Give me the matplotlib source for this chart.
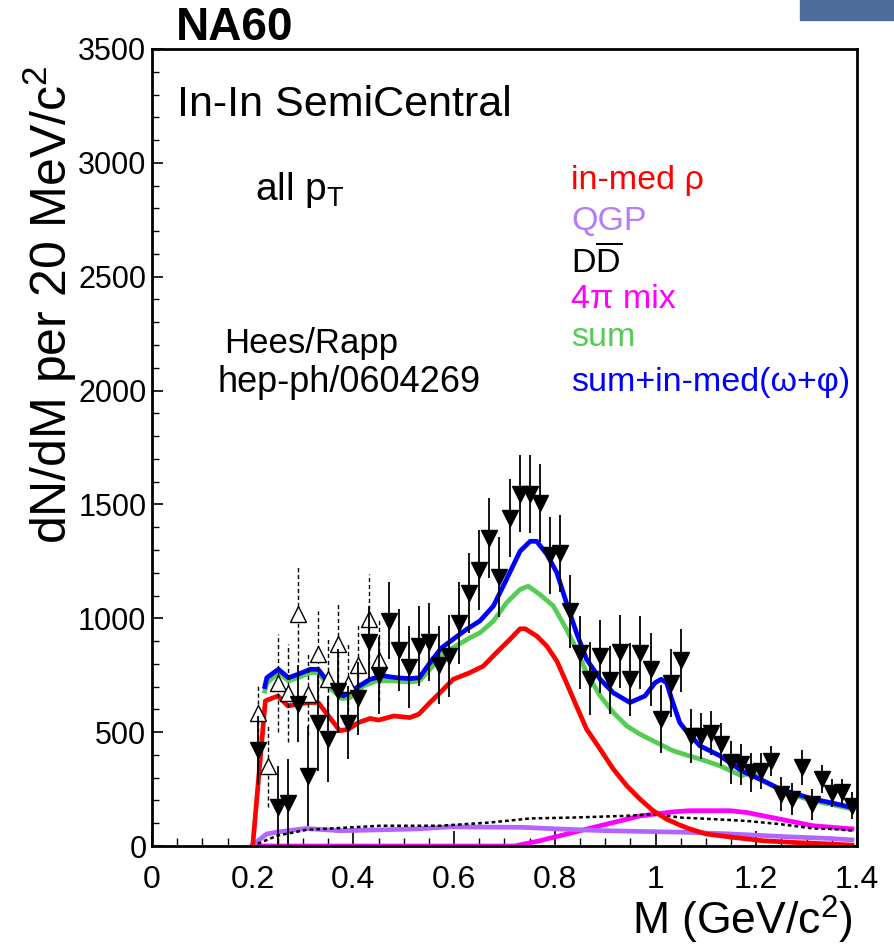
import matplotlib
matplotlib.use('Agg')
import matplotlib.pyplot as plt
from matplotlib.ticker import MultipleLocator
from matplotlib.patches import Rectangle

plt.rcParams['font.family'] = ['Liberation Sans', 'DejaVu Sans']
plt.rcParams['mathtext.fontset'] = 'custom'
plt.rcParams['mathtext.rm'] = 'Liberation Sans'
plt.rcParams['mathtext.it'] = 'Liberation Sans'

# NA60 data, filled triangles (all pT)
m_data = [0.21, 0.25, 0.27, 0.29, 0.31, 0.33, 0.35, 0.37, 0.39, 0.41, 0.43,
          0.45, 0.47, 0.49, 0.51, 0.53, 0.55, 0.57, 0.59, 0.61, 0.63, 0.65,
          0.67, 0.69, 0.71, 0.73, 0.75, 0.77, 0.79, 0.81, 0.83, 0.85, 0.87,
          0.89, 0.91, 0.93, 0.95, 0.97, 0.99, 1.01, 1.03, 1.05, 1.07, 1.09,
          1.11, 1.13, 1.15, 1.17, 1.19, 1.21, 1.23, 1.25, 1.27, 1.29, 1.31,
          1.33, 1.35, 1.37, 1.39]
y_data = [420, 170, 190, 625, 308, 540, 470, 681, 542, 648, 895,
          750, 990, 860, 785, 878, 895, 795, 836, 978, 1110, 1212,
          1353, 1182, 1441, 1547, 1545, 1507, 1276, 1285, 1030, 849, 735,
          834, 728, 853, 732, 849, 776, 557, 717, 815, 483, 483,
          497, 447, 367, 360, 323, 330, 374, 228, 206, 345, 184,
          294, 232, 235, 177]
e_data = [150, 180, 190, 170, 220, 210, 190, 186, 160, 160, 160,
          170, 170, 180, 180, 175, 170, 170, 180, 180, 175, 175,
          175, 175, 170, 170, 170, 170, 170, 170, 160, 160, 160,
          160, 150, 160, 160, 160, 160, 150, 150, 140, 117, 100,
          98, 95, 95, 90, 85, 80, 67, 75, 72, 76, 68,
          63, 62, 60, 58]

# open triangles (dashed errors)
m_open = [0.21, 0.23, 0.25, 0.27, 0.29, 0.31, 0.33, 0.35, 0.37, 0.39, 0.41, 0.43, 0.45]
y_open = [586, 352, 717, 673, 1017, 667, 842, 732, 886, 712, 795, 995, 815]
e_open = [117, 180, 215, 215, 210, 180, 190, 180, 180, 180, 180, 200, 180]

# Hees/Rapp model curves
rho_x = [0.20, 0.225, 0.25, 0.27, 0.29, 0.31, 0.33, 0.353, 0.373, 0.39, 0.41,
         0.433, 0.45, 0.48, 0.512, 0.53, 0.552, 0.575, 0.598, 0.631, 0.658,
         0.684, 0.711, 0.731, 0.741, 0.764, 0.784, 0.804, 0.823, 0.843, 0.863,
         0.89, 0.916, 0.943, 0.969, 0.995, 1.022, 1.048, 1.068, 1.10, 1.154,
         1.214, 1.28, 1.346, 1.39]
rho_y = [0, 637, 659, 615, 623, 630, 630, 564, 506, 513, 542,
         560, 553, 571, 564, 579, 630, 680, 732, 761, 790,
         849, 908, 954, 954, 922, 878, 812, 717, 614, 513,
         425, 338, 264, 206, 155, 118, 92, 75, 53, 38,
         23, 15, 9, 4]

sum_x = [0.224, 0.228, 0.251, 0.271, 0.29, 0.314, 0.33, 0.353, 0.377, 0.393,
         0.42, 0.446, 0.48, 0.512, 0.531, 0.552, 0.575, 0.598, 0.631, 0.651,
         0.678, 0.704, 0.731, 0.747, 0.77, 0.797, 0.823, 0.843, 0.863, 0.89,
         0.916, 0.943, 0.969, 1.002, 1.035, 1.068, 1.088, 1.128, 1.171, 1.19,
         1.214, 1.247, 1.28, 1.313, 1.346, 1.39]
sum_y = [680, 715, 761, 725, 739, 761, 761, 695, 647, 651,
         703, 725, 725, 720, 725, 776, 838, 871, 914, 936,
         988, 1068, 1127, 1141, 1105, 1054, 952, 864, 761, 659,
         586, 527, 491, 454, 418, 395, 382, 352, 308, 323,
         286, 250, 220, 198, 184, 162]

tot_x = [0.224, 0.228, 0.251, 0.271, 0.29, 0.314, 0.33, 0.353, 0.38, 0.406,
         0.433, 0.459, 0.486, 0.512, 0.531, 0.552, 0.575, 0.598, 0.625, 0.651,
         0.678, 0.704, 0.731, 0.751, 0.764, 0.784, 0.804, 0.823, 0.843, 0.863,
         0.89, 0.916, 0.949, 0.979, 0.999, 1.011, 1.022, 1.032, 1.048, 1.058,
         1.088, 1.128, 1.171, 1.214, 1.247, 1.28, 1.313, 1.346, 1.39]
tot_y = [700, 739, 776, 739, 754, 776, 776, 710, 659, 695,
         732, 747, 739, 735, 739, 805, 870, 908, 952, 988,
         1054, 1171, 1295, 1338, 1338, 1281, 1200, 1068, 936, 820,
         732, 673, 630, 659, 717, 732, 717, 645, 542, 513,
         440, 396, 330, 286, 250, 228, 206, 191, 169]

qgp_x = [0.20, 0.228, 0.251, 0.307, 0.373, 0.453, 0.526, 0.592, 0.737, 0.804,
         0.903, 1.068, 1.148, 1.247, 1.346, 1.39]
qgp_y = [5, 53, 62, 77, 67, 71, 75, 84, 82, 75, 67, 60, 53, 42, 33, 27]

mix_x = [0.20, 0.72, 0.77, 0.837, 0.903, 0.969, 1.035, 1.068, 1.148, 1.181,
         1.247, 1.313, 1.39]
mix_y = [0, 0, 23, 60, 96, 132, 150, 155, 155, 147, 118, 89, 75]

dd_x = [0.21, 0.248, 0.307, 0.453, 0.572, 0.671, 0.751, 0.837, 0.936, 1.002,
        1.048, 1.115, 1.181, 1.247, 1.313, 1.346, 1.39]
dd_y = [10, 45, 71, 89, 89, 103, 121, 125, 132, 140, 125, 118, 110, 96, 77, 75, 68]

legend_labels = ['in-med \u03c1', 'QGP', r'D$\overline{\mathrm{D}}$', '4\u03c0 mix',
                 'sum', 'sum+in-med(\u03c9+\u03c6)']
legend_colors = ['#ff0000', '#b57cf5', 'black', '#ff00ff', '#55cc55', '#0000ff']

W, H = 894, 948
fig = plt.figure(figsize=(W / 100, H / 100), dpi=100)
ax = fig.add_axes([152 / W, 1 - 846 / H, (857 - 152) / W, (846 - 49) / H])

lw = 3.4
ax.plot(mix_x, mix_y, color='#ff00ff', lw=lw)
ax.plot(qgp_x, qgp_y, color='#b366ff', lw=lw)
ax.plot(dd_x, dd_y, color='black', lw=1.8, ls=(0, (1.5, 1.2)))
ax.plot(rho_x, rho_y, color='#ff0000', lw=lw)
ax.plot(sum_x, sum_y, color='#55cc55', lw=lw)
ax.plot(tot_x, tot_y, color='#0000ff', lw=lw)

eb = ax.errorbar(m_open, y_open, yerr=e_open, fmt='^', ms=12, mfc='white',
                 mec='black', mew=1.0, ecolor='black', elinewidth=1.0, capsize=0, zorder=4)
eb[2][0].set_linestyle((0, (3, 2)))
ax.errorbar(m_data, y_data, yerr=e_data, fmt='v', ms=12, color='black',
            elinewidth=1.3, capsize=0, zorder=5)

ax.set_xlim(0, 1.4)
ax.set_ylim(0, 3500)
ax.xaxis.set_major_locator(MultipleLocator(0.2))
ax.xaxis.set_minor_locator(MultipleLocator(0.05))
ax.yaxis.set_major_locator(MultipleLocator(500))
ax.yaxis.set_minor_locator(MultipleLocator(100))
ax.set_xticks([0, 0.2, 0.4, 0.6, 0.8, 1.0, 1.2, 1.4])
ax.set_xticklabels(['0', '0.2', '0.4', '0.6', '0.8', '1', '1.2', '1.4'])
ax.tick_params(axis='x', which='major', direction='in', length=11, width=1.2,
               labelsize=23, pad=14)
ax.tick_params(axis='x', which='minor', direction='in', length=6, width=1.0)
ax.tick_params(axis='y', which='major', direction='in', length=8, width=1.2,
               labelsize=22, pad=4)
ax.tick_params(axis='y', which='minor', direction='in', length=5, width=1.0)
for s in ax.spines.values():
    s.set_linewidth(2.0)

def fx(px):
    return px / W

def fy(py):
    return 1 - py / H

fig.text(fx(50), fy(305), r'dN/dM per 20 MeV/c$^{2}$', rotation=90,
         ha='center', va='center', fontsize=36)
fig.text(fx(853), fy(920), r'M (GeV/c$^{2}$)', ha='right', va='center', fontsize=32)
fig.text(fx(176), fy(28), 'NA60', fontsize=33, fontweight='bold', ha='left', va='center')
fig.text(fx(177), fy(105), 'In-In SemiCentral', fontsize=31, ha='left', va='center')
fig.text(fx(255), fy(190), r'all p$_{\mathrm{T}}$', fontsize=28, ha='left', va='center')
fig.text(fx(224), fy(343), 'Hees/Rapp', fontsize=25, ha='left', va='center')
fig.text(fx(218), fy(383), 'hep-ph/0604269', fontsize=26, ha='left', va='center')

leg_y = [180, 222, 262, 300, 338, 383]
for lab, col, yy in zip(legend_labels, legend_colors, leg_y):
    fig.text(fx(571), fy(yy), lab, color=col, fontsize=24.5, ha='left', va='center')

fig.patches.append(Rectangle((fx(800), fy(20)), fx(94), 20 / H, transform=fig.transFigure,
                             color='#4f6b99', zorder=10))

fig.savefig('out.png', dpi=100)
